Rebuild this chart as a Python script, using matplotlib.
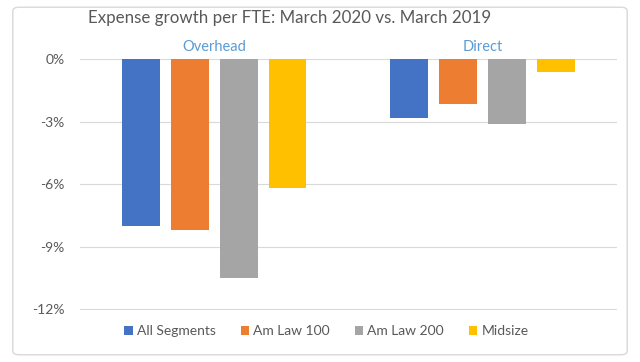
import matplotlib
matplotlib.use("Agg")
import matplotlib.pyplot as plt
from matplotlib.patches import FancyBboxPatch
import numpy as np

categories = ["Overhead", "Direct"]
series_names = ["All Segments", "Am Law 100", "Am Law 200", "Midsize"]
all_segments = [-8.0, -2.8]
am_law_100 = [-8.2, -2.15]
am_law_200 = [-10.5, -3.1]
midsize = [-6.2, -0.6]
yticks = [0, -3, -6, -9, -12]
ytick_labels = ["0%", "-3%", "-6%", "-9%", "-12%"]

colors = ["#4472C4", "#ED7D31", "#A5A5A5", "#FFC000"]
series = [all_segments, am_law_100, am_law_200, midsize]

plt.rcParams['font.family'] = ['Lato', 'DejaVu Sans']

fig = plt.figure(figsize=(6.4, 3.62), dpi=100)
border = FancyBboxPatch((0.02, 0.02), 0.96, 0.96, boxstyle="round,pad=0,rounding_size=0.01",
                        transform=fig.transFigure, facecolor="white", edgecolor="#D9D9D9",
                        linewidth=1.0, zorder=-10)
fig.patches.append(border)

ax = fig.add_axes([0.125, 0.1436, 0.839, 0.6934])
ax.set_zorder(1)
ax.set_facecolor("none")
x = np.arange(len(categories))
step = 0.182
width = 0.141
for i, (vals, c, name) in enumerate(zip(series, colors, series_names)):
    ax.bar(x + (i - 1.5) * step, vals, width=width, color=c, label=name, zorder=3)

ax.set_xlim(-0.5, 1.5)
ax.set_ylim(-12.04, 0.02)
ax.set_yticks(yticks)
ax.set_yticklabels(ytick_labels, color="#595959", fontsize=10)
ax.set_xticks([])
ax.yaxis.grid(True, color="#D9D9D9", linewidth=0.8, zorder=0)
ax.set_axisbelow(True)
ax.tick_params(axis='y', length=0, pad=11)
for s in ax.spines.values():
    s.set_visible(False)

for xi, cat in zip(x, categories):
    ax.text(xi, 0.25, cat, ha="center", va="bottom", color="#5B9BD5", fontsize=10.5,
            transform=ax.transData, clip_on=False)

fig.text(0.137, 0.95, "Expense growth per FTE: March 2020 vs. March 2019", ha="left", va="center",
         color="#595959", fontsize=12.2, zorder=2)

leg = fig.legend(loc="center", bbox_to_anchor=(0.51, 0.085), ncol=4, frameon=False,
                 fontsize=10, handlelength=0.6, handleheight=0.6, handletextpad=0.3,
                 columnspacing=1.8)
leg.set_zorder(2)
for t in leg.get_texts():
    t.set_color("#595959")

fig.savefig("out.png", dpi=100)
